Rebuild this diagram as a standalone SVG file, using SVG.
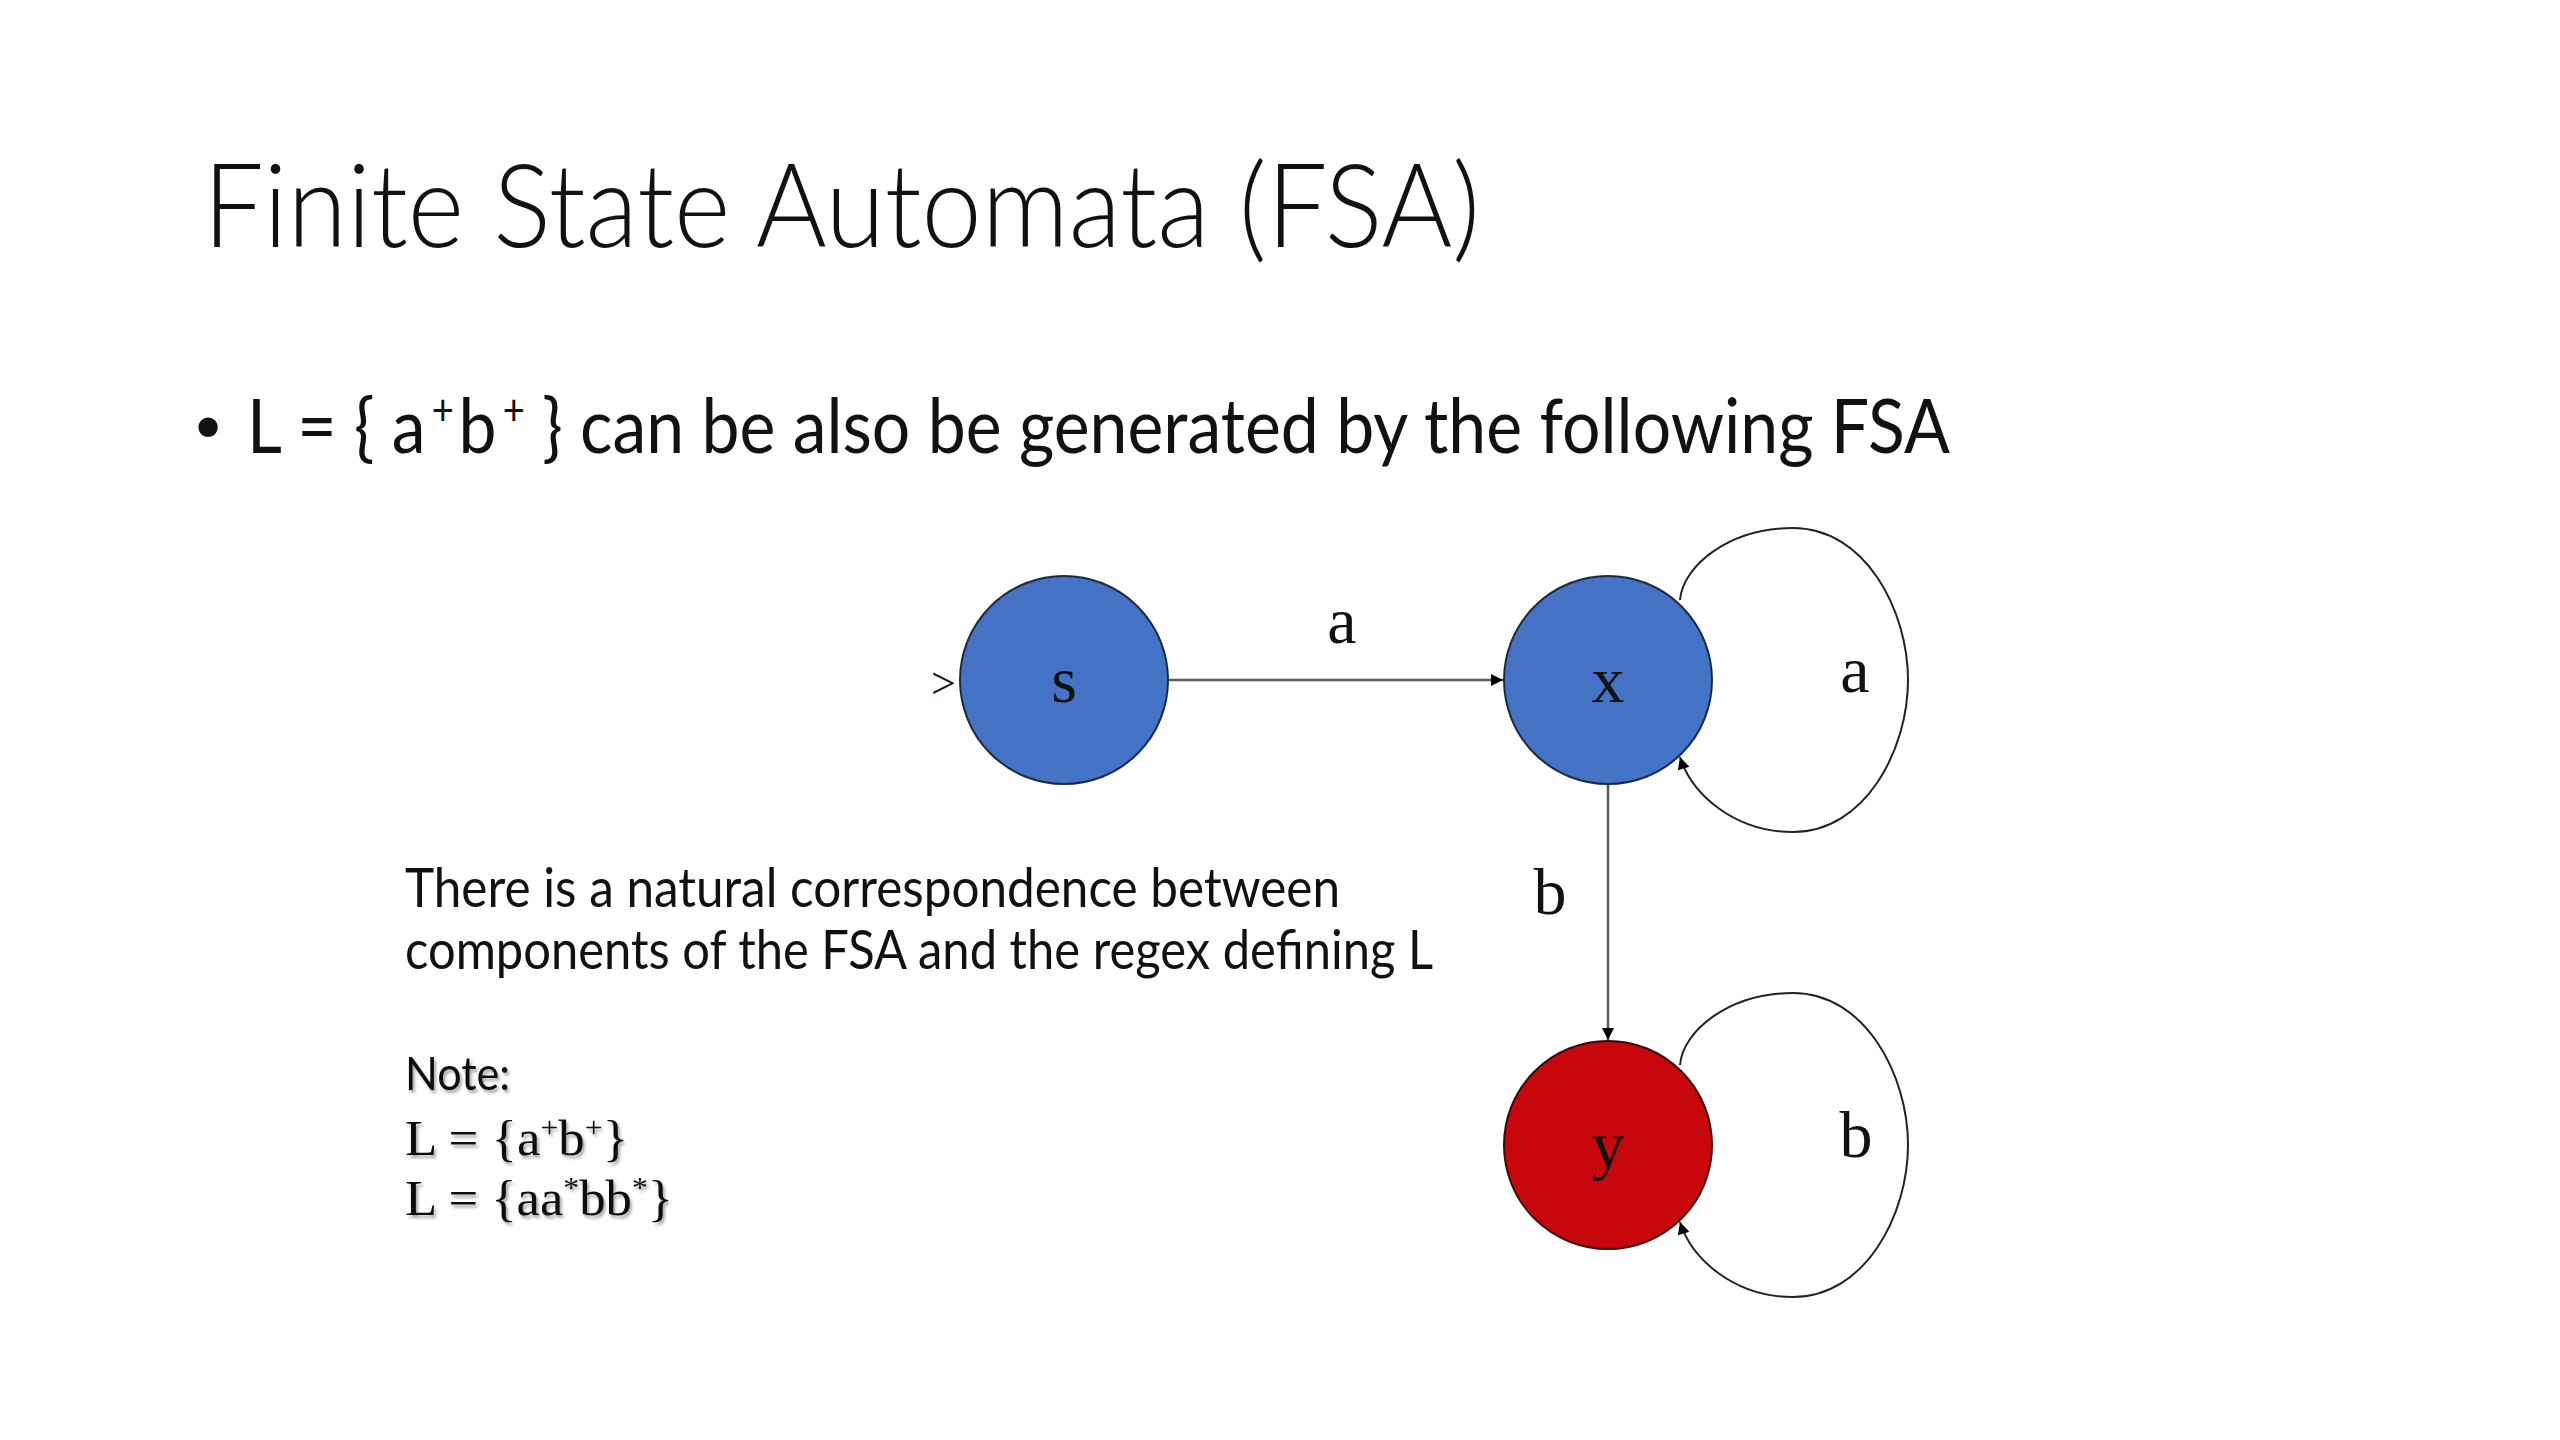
<svg xmlns="http://www.w3.org/2000/svg" width="2560" height="1440" viewBox="0 0 2560 1440">
  <defs>
    <marker id="arrow" viewBox="0 0 10 10" refX="10" refY="5" markerWidth="16" markerHeight="12" markerUnits="userSpaceOnUse" orient="auto">
      <path d="M0,0 L10,5 L0,10 z" fill="#000"/>
    </marker>
    <filter id="shadow" x="-5%" y="-20%" width="110%" height="140%">
      <feDropShadow dx="2" dy="3" stdDeviation="1.5" flood-color="#000" flood-opacity="0.35"/>
    </filter>
    <style>
      .title { font-family: "Lato", "Open Sans", "Liberation Sans", sans-serif; font-weight: 300; font-size: 117px; fill: #111; }
      .body { font-family: "Lato", "Open Sans", "Liberation Sans", sans-serif; fill: #111; }
      .serif { font-family: "Liberation Serif", "DejaVu Serif", serif; fill: #111; }
      .lbl { font-family: "Liberation Serif", "DejaVu Serif", serif; font-size: 66px; fill: #111; text-anchor: middle; }
      .state-blue { fill: #4472C4; stroke: #1b2a44; stroke-width: 2; }
      .state-red { fill: #C8070C; stroke: #3a0a0a; stroke-width: 2; }
      .edge { fill: none; stroke: #5a5a5a; stroke-width: 2.5; }
      .loop { fill: none; stroke: #222; stroke-width: 2; }
    </style>
  </defs>

  <rect x="0" y="0" width="2560" height="1440" fill="#ffffff"/>

  <g id="title">
    <text class="title" x="203" y="247" textLength="1277" lengthAdjust="spacingAndGlyphs">Finite State Automata (FSA)</text>
  </g>

  <g id="bullet">
    <text class="body" x="208" y="443" font-size="52" text-anchor="middle">•</text>
    <text class="body" x="247" y="453" font-size="75" textLength="1703" lengthAdjust="spacingAndGlyphs">L = { a<tspan font-size="42" dx="7" dy="-28">+</tspan><tspan dx="5" dy="28">b</tspan><tspan font-size="42" dx="7" dy="-28">+</tspan><tspan dy="28"> } can be also be generated by the following FSA</tspan></text>
  </g>

  <g id="explanation">
    <text class="body" x="405" y="907" font-size="55" textLength="935" lengthAdjust="spacingAndGlyphs">There is a natural correspondence between</text>
    <text class="body" x="405" y="969" font-size="55" textLength="1028" lengthAdjust="spacingAndGlyphs">components of the FSA and the regex defining L</text>
  </g>

  <g id="note" filter="url(#shadow)">
    <text class="body" x="405" y="1090" font-size="46" textLength="105" lengthAdjust="spacingAndGlyphs">Note:</text>
    <text class="serif" x="405" y="1155" font-size="50" textLength="223" lengthAdjust="spacingAndGlyphs">L = {a<tspan font-size="30" dy="-18">+</tspan><tspan dy="18">b</tspan><tspan font-size="30" dy="-18">+</tspan><tspan dy="18">}</tspan></text>
    <text class="serif" x="405" y="1215" font-size="50" textLength="268" lengthAdjust="spacingAndGlyphs">L = {aa<tspan font-size="30" dy="-18">*</tspan><tspan dy="18">bb</tspan><tspan font-size="30" dy="-18">*</tspan><tspan dy="18">}</tspan></text>
  </g>

  <g id="connectors">
    <text id="start-marker" class="serif" x="931" y="698" font-size="44">&gt;</text>
    <line id="edge-s-x" class="edge" x1="1168" y1="680" x2="1503" y2="680" marker-end="url(#arrow)"/>
    <text class="lbl" x="1342" y="643">a</text>
    <line id="edge-x-y" class="edge" x1="1608" y1="784" x2="1608" y2="1040" marker-end="url(#arrow)"/>
    <text class="lbl" x="1550" y="914">b</text>
    <path id="loop-x" class="loop" d="M1680,600 C1683,565 1730,528 1793,528 C1865,528 1908,610 1908,680 C1908,750 1865,832 1793,832 C1735,832 1692,795 1680,757" marker-end="url(#arrow)"/>
    <text class="lbl" x="1855" y="692">a</text>
    <path id="loop-y" class="loop" d="M1680,1065 C1683,1030 1730,993 1793,993 C1865,993 1908,1075 1908,1145 C1908,1215 1865,1297 1793,1297 C1735,1297 1692,1260 1680,1222" marker-end="url(#arrow)"/>
    <text class="lbl" x="1856" y="1157">b</text>
  </g>

  <g id="node-s">
    <circle class="state-blue" cx="1064" cy="680" r="104"/>
    <text class="lbl" x="1064" y="702">s</text>
  </g>
  <g id="node-x">
    <circle class="state-blue" cx="1608" cy="680" r="104"/>
    <text class="lbl" x="1608" y="702">x</text>
  </g>
  <g id="node-y">
    <circle class="state-red" cx="1608" cy="1145" r="104"/>
    <text class="lbl" x="1608" y="1167">y</text>
  </g>
</svg>
